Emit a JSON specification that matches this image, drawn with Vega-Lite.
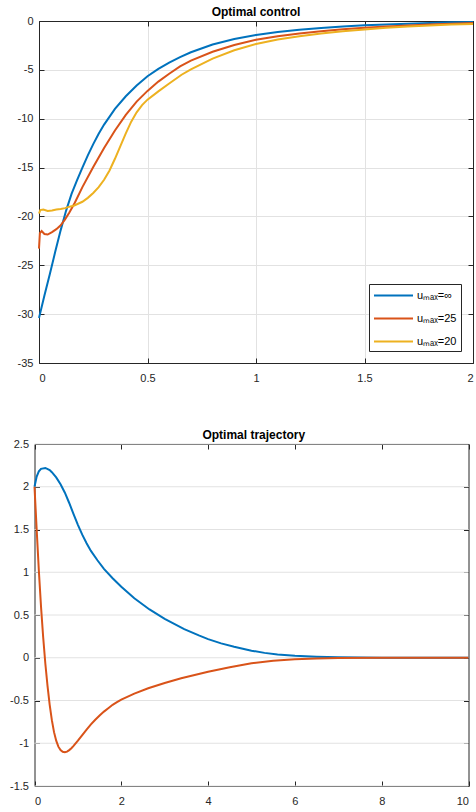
{
  "$schema": "https://vega.github.io/schema/vega-lite/v6.json",
  "padding": {"left": 0, "top": 6, "right": 0, "bottom": 0},
  "background": "white",
  "config": {
    "font": "Liberation Sans",
    "view": {"stroke": null},
    "axis": {
      "labelFont": "Liberation Sans",
      "labelFontSize": 11,
      "labelColor": "#262626",
      "labelExpr": "'' + datum.value",
      "tickColor": "#262626",
      "tickSize": -5,
      "domain": true,
      "domainColor": "#262626",
      "domainWidth": 1,
      "gridColor": "#e2e2e2",
      "gridWidth": 1
    },
    "axisX": {"labelPadding": 14},
    "axisY": {"labelPadding": 11},
    "title": {"font": "Liberation Sans", "fontSize": 12, "fontWeight": "bold", "color": "#000000", "offset": -4, "frame": "group"},
    "legend": {"labelFont": "Liberation Sans"}
  },
  "datasets": {
    "control": [
      {"series": "uₘₐₓ=∞", "t": 0, "u": -30.4},
      {"series": "uₘₐₓ=∞", "t": 0.025, "u": -28.1},
      {"series": "uₘₐₓ=∞", "t": 0.05, "u": -25.9},
      {"series": "uₘₐₓ=∞", "t": 0.075, "u": -23.6},
      {"series": "uₘₐₓ=∞", "t": 0.1, "u": -21.4},
      {"series": "uₘₐₓ=∞", "t": 0.125, "u": -19.4},
      {"series": "uₘₐₓ=∞", "t": 0.15, "u": -17.7},
      {"series": "uₘₐₓ=∞", "t": 0.175, "u": -16.3},
      {"series": "uₘₐₓ=∞", "t": 0.2, "u": -15.0},
      {"series": "uₘₐₓ=∞", "t": 0.225, "u": -13.75},
      {"series": "uₘₐₓ=∞", "t": 0.25, "u": -12.6},
      {"series": "uₘₐₓ=∞", "t": 0.275, "u": -11.55},
      {"series": "uₘₐₓ=∞", "t": 0.3, "u": -10.6},
      {"series": "uₘₐₓ=∞", "t": 0.35, "u": -9.0},
      {"series": "uₘₐₓ=∞", "t": 0.4, "u": -7.7},
      {"series": "uₘₐₓ=∞", "t": 0.45, "u": -6.6},
      {"series": "uₘₐₓ=∞", "t": 0.5, "u": -5.65},
      {"series": "uₘₐₓ=∞", "t": 0.55, "u": -4.9},
      {"series": "uₘₐₓ=∞", "t": 0.6, "u": -4.25},
      {"series": "uₘₐₓ=∞", "t": 0.65, "u": -3.7},
      {"series": "uₘₐₓ=∞", "t": 0.7, "u": -3.2},
      {"series": "uₘₐₓ=∞", "t": 0.8, "u": -2.4},
      {"series": "uₘₐₓ=∞", "t": 0.9, "u": -1.85},
      {"series": "uₘₐₓ=∞", "t": 1.0, "u": -1.43},
      {"series": "uₘₐₓ=∞", "t": 1.1, "u": -1.13},
      {"series": "uₘₐₓ=∞", "t": 1.2, "u": -0.9},
      {"series": "uₘₐₓ=∞", "t": 1.3, "u": -0.72},
      {"series": "uₘₐₓ=∞", "t": 1.4, "u": -0.57},
      {"series": "uₘₐₓ=∞", "t": 1.5, "u": -0.44},
      {"series": "uₘₐₓ=∞", "t": 1.6, "u": -0.35},
      {"series": "uₘₐₓ=∞", "t": 1.7, "u": -0.27},
      {"series": "uₘₐₓ=∞", "t": 1.8, "u": -0.2},
      {"series": "uₘₐₓ=∞", "t": 1.9, "u": -0.14},
      {"series": "uₘₐₓ=∞", "t": 2.0, "u": -0.1},
      {"series": "uₘₐₓ=25", "t": 0, "u": -23.3},
      {"series": "uₘₐₓ=25", "t": 0.004, "u": -21.7},
      {"series": "uₘₐₓ=25", "t": 0.012, "u": -21.5},
      {"series": "uₘₐₓ=25", "t": 0.025, "u": -21.8},
      {"series": "uₘₐₓ=25", "t": 0.04, "u": -21.85},
      {"series": "uₘₐₓ=25", "t": 0.06, "u": -21.6},
      {"series": "uₘₐₓ=25", "t": 0.08, "u": -21.3},
      {"series": "uₘₐₓ=25", "t": 0.1, "u": -20.9},
      {"series": "uₘₐₓ=25", "t": 0.12, "u": -20.3},
      {"series": "uₘₐₓ=25", "t": 0.14, "u": -19.6},
      {"series": "uₘₐₓ=25", "t": 0.165, "u": -18.6},
      {"series": "uₘₐₓ=25", "t": 0.2, "u": -17.0},
      {"series": "uₘₐₓ=25", "t": 0.25, "u": -14.95},
      {"series": "uₘₐₓ=25", "t": 0.3, "u": -13.0},
      {"series": "uₘₐₓ=25", "t": 0.35, "u": -11.2},
      {"series": "uₘₐₓ=25", "t": 0.4, "u": -9.6},
      {"series": "uₘₐₓ=25", "t": 0.45, "u": -8.25},
      {"series": "uₘₐₓ=25", "t": 0.5, "u": -7.15},
      {"series": "uₘₐₓ=25", "t": 0.55, "u": -6.2},
      {"series": "uₘₐₓ=25", "t": 0.6, "u": -5.4},
      {"series": "uₘₐₓ=25", "t": 0.65, "u": -4.65},
      {"series": "uₘₐₓ=25", "t": 0.7, "u": -4.05},
      {"series": "uₘₐₓ=25", "t": 0.8, "u": -3.15},
      {"series": "uₘₐₓ=25", "t": 0.9, "u": -2.45},
      {"series": "uₘₐₓ=25", "t": 1.0, "u": -1.92},
      {"series": "uₘₐₓ=25", "t": 1.1, "u": -1.55},
      {"series": "uₘₐₓ=25", "t": 1.2, "u": -1.27},
      {"series": "uₘₐₓ=25", "t": 1.3, "u": -1.04},
      {"series": "uₘₐₓ=25", "t": 1.4, "u": -0.85},
      {"series": "uₘₐₓ=25", "t": 1.5, "u": -0.69},
      {"series": "uₘₐₓ=25", "t": 1.6, "u": -0.56},
      {"series": "uₘₐₓ=25", "t": 1.7, "u": -0.45},
      {"series": "uₘₐₓ=25", "t": 1.8, "u": -0.35},
      {"series": "uₘₐₓ=25", "t": 1.9, "u": -0.27},
      {"series": "uₘₐₓ=25", "t": 2.0, "u": -0.2},
      {"series": "uₘₐₓ=20", "t": 0, "u": -19.7},
      {"series": "uₘₐₓ=20", "t": 0.006, "u": -19.35},
      {"series": "uₘₐₓ=20", "t": 0.02, "u": -19.3},
      {"series": "uₘₐₓ=20", "t": 0.04, "u": -19.45},
      {"series": "uₘₐₓ=20", "t": 0.06, "u": -19.4},
      {"series": "uₘₐₓ=20", "t": 0.08, "u": -19.3},
      {"series": "uₘₐₓ=20", "t": 0.1, "u": -19.25},
      {"series": "uₘₐₓ=20", "t": 0.12, "u": -19.15},
      {"series": "uₘₐₓ=20", "t": 0.14, "u": -19.0},
      {"series": "uₘₐₓ=20", "t": 0.16, "u": -18.9},
      {"series": "uₘₐₓ=20", "t": 0.18, "u": -18.7},
      {"series": "uₘₐₓ=20", "t": 0.2, "u": -18.5},
      {"series": "uₘₐₓ=20", "t": 0.225, "u": -18.1},
      {"series": "uₘₐₓ=20", "t": 0.25, "u": -17.6},
      {"series": "uₘₐₓ=20", "t": 0.275, "u": -17.0},
      {"series": "uₘₐₓ=20", "t": 0.3, "u": -16.25},
      {"series": "uₘₐₓ=20", "t": 0.325, "u": -15.3},
      {"series": "uₘₐₓ=20", "t": 0.35, "u": -14.1},
      {"series": "uₘₐₓ=20", "t": 0.375, "u": -12.8},
      {"series": "uₘₐₓ=20", "t": 0.4, "u": -11.5},
      {"series": "uₘₐₓ=20", "t": 0.425, "u": -10.3},
      {"series": "uₘₐₓ=20", "t": 0.45, "u": -9.35},
      {"series": "uₘₐₓ=20", "t": 0.475, "u": -8.6},
      {"series": "uₘₐₓ=20", "t": 0.5, "u": -8.05},
      {"series": "uₘₐₓ=20", "t": 0.55, "u": -7.2},
      {"series": "uₘₐₓ=20", "t": 0.6, "u": -6.4},
      {"series": "uₘₐₓ=20", "t": 0.657, "u": -5.5},
      {"series": "uₘₐₓ=20", "t": 0.7, "u": -4.95},
      {"series": "uₘₐₓ=20", "t": 0.8, "u": -3.85},
      {"series": "uₘₐₓ=20", "t": 0.9, "u": -3.0},
      {"series": "uₘₐₓ=20", "t": 1.0, "u": -2.35},
      {"series": "uₘₐₓ=20", "t": 1.1, "u": -1.9},
      {"series": "uₘₐₓ=20", "t": 1.2, "u": -1.55},
      {"series": "uₘₐₓ=20", "t": 1.3, "u": -1.28},
      {"series": "uₘₐₓ=20", "t": 1.4, "u": -1.05},
      {"series": "uₘₐₓ=20", "t": 1.5, "u": -0.86},
      {"series": "uₘₐₓ=20", "t": 1.6, "u": -0.7},
      {"series": "uₘₐₓ=20", "t": 1.7, "u": -0.57},
      {"series": "uₘₐₓ=20", "t": 1.8, "u": -0.46},
      {"series": "uₘₐₓ=20", "t": 1.9, "u": -0.37},
      {"series": "uₘₐₓ=20", "t": 2.0, "u": -0.3}
    ],
    "trajectory": [
      {"state": "x1", "t": 0, "x": 2.0},
      {"state": "x1", "t": 0.05, "x": 2.12},
      {"state": "x1", "t": 0.1, "x": 2.18},
      {"state": "x1", "t": 0.15, "x": 2.21},
      {"state": "x1", "t": 0.25, "x": 2.22},
      {"state": "x1", "t": 0.35, "x": 2.195},
      {"state": "x1", "t": 0.4, "x": 2.17},
      {"state": "x1", "t": 0.5, "x": 2.11},
      {"state": "x1", "t": 0.6, "x": 2.03},
      {"state": "x1", "t": 0.7, "x": 1.93},
      {"state": "x1", "t": 0.8, "x": 1.81},
      {"state": "x1", "t": 0.9, "x": 1.68},
      {"state": "x1", "t": 1.0, "x": 1.555},
      {"state": "x1", "t": 1.1, "x": 1.44},
      {"state": "x1", "t": 1.2, "x": 1.34},
      {"state": "x1", "t": 1.3, "x": 1.25},
      {"state": "x1", "t": 1.45, "x": 1.14},
      {"state": "x1", "t": 1.6, "x": 1.04},
      {"state": "x1", "t": 1.8, "x": 0.93},
      {"state": "x1", "t": 2.0, "x": 0.83},
      {"state": "x1", "t": 2.3, "x": 0.695},
      {"state": "x1", "t": 2.65, "x": 0.565},
      {"state": "x1", "t": 3.0, "x": 0.455},
      {"state": "x1", "t": 3.45, "x": 0.335},
      {"state": "x1", "t": 3.8, "x": 0.258},
      {"state": "x1", "t": 4.0, "x": 0.218},
      {"state": "x1", "t": 4.3, "x": 0.168},
      {"state": "x1", "t": 4.6, "x": 0.128},
      {"state": "x1", "t": 5.0, "x": 0.083},
      {"state": "x1", "t": 5.3, "x": 0.057},
      {"state": "x1", "t": 5.6, "x": 0.038},
      {"state": "x1", "t": 6.0, "x": 0.022},
      {"state": "x1", "t": 6.5, "x": 0.011},
      {"state": "x1", "t": 7.0, "x": 0.005},
      {"state": "x1", "t": 7.5, "x": 0.002},
      {"state": "x1", "t": 8.0, "x": 0.001},
      {"state": "x1", "t": 9.0, "x": 0},
      {"state": "x1", "t": 10.0, "x": 0},
      {"state": "x2", "t": 0, "x": 2.0},
      {"state": "x2", "t": 0.05, "x": 1.5},
      {"state": "x2", "t": 0.1, "x": 1.02},
      {"state": "x2", "t": 0.15, "x": 0.6},
      {"state": "x2", "t": 0.2, "x": 0.24},
      {"state": "x2", "t": 0.25, "x": -0.07},
      {"state": "x2", "t": 0.3, "x": -0.33},
      {"state": "x2", "t": 0.35, "x": -0.55},
      {"state": "x2", "t": 0.4, "x": -0.73},
      {"state": "x2", "t": 0.45, "x": -0.87},
      {"state": "x2", "t": 0.5, "x": -0.97},
      {"state": "x2", "t": 0.55, "x": -1.04},
      {"state": "x2", "t": 0.6, "x": -1.08},
      {"state": "x2", "t": 0.65, "x": -1.1},
      {"state": "x2", "t": 0.7, "x": -1.105},
      {"state": "x2", "t": 0.75, "x": -1.098},
      {"state": "x2", "t": 0.8, "x": -1.08},
      {"state": "x2", "t": 0.85, "x": -1.058},
      {"state": "x2", "t": 0.9, "x": -1.03},
      {"state": "x2", "t": 1.0, "x": -0.97},
      {"state": "x2", "t": 1.1, "x": -0.905},
      {"state": "x2", "t": 1.2, "x": -0.84},
      {"state": "x2", "t": 1.3, "x": -0.78},
      {"state": "x2", "t": 1.4, "x": -0.725},
      {"state": "x2", "t": 1.5, "x": -0.675},
      {"state": "x2", "t": 1.6, "x": -0.63},
      {"state": "x2", "t": 1.7, "x": -0.59},
      {"state": "x2", "t": 1.8, "x": -0.55},
      {"state": "x2", "t": 1.9, "x": -0.52},
      {"state": "x2", "t": 2.0, "x": -0.49},
      {"state": "x2", "t": 2.3, "x": -0.42},
      {"state": "x2", "t": 2.62, "x": -0.357},
      {"state": "x2", "t": 3.0, "x": -0.295},
      {"state": "x2", "t": 3.38, "x": -0.24},
      {"state": "x2", "t": 4.0, "x": -0.163},
      {"state": "x2", "t": 4.5, "x": -0.11},
      {"state": "x2", "t": 5.0, "x": -0.065},
      {"state": "x2", "t": 5.5, "x": -0.035},
      {"state": "x2", "t": 6.0, "x": -0.018},
      {"state": "x2", "t": 6.5, "x": -0.009},
      {"state": "x2", "t": 7.0, "x": -0.004},
      {"state": "x2", "t": 8.0, "x": -0.001},
      {"state": "x2", "t": 9.0, "x": 0},
      {"state": "x2", "t": 10.0, "x": 0}
    ],
    "ygrid": [
      {"g": -1.5}, {"g": -1}, {"g": -0.5}, {"g": 0}, {"g": 0.5}, {"g": 1}, {"g": 1.5}, {"g": 2}, {"g": 2.5}
    ]
  },
  "vconcat": [
    {
      "vconcat": [
        {
          "width": 434,
          "height": 342,
          "title": "Optimal control",
          "data": {"name": "control"},
          "layer": [
            {
              "mark": {"type": "line", "strokeWidth": 2},
              "encoding": {
                "x": {"field": "t", "type": "quantitative", "title": null, "scale": {"domain": [0, 2], "nice": false}, "axis": {"orient": "bottom", "values": [0, 0.5, 1, 1.5, 2]}},
                "y": {"field": "u", "type": "quantitative", "title": null, "scale": {"domain": [-35, 0], "nice": false, "zero": false}, "axis": {"orient": "left", "values": [-35, -30, -25, -20, -15, -10, -5, 0], "minExtent": 39}},
                "color": {
                  "field": "series", "type": "nominal", "sort": null,
                  "scale": {"domain": ["uₘₐₓ=∞", "uₘₐₓ=25", "uₘₐₓ=20"], "range": ["#0072BD", "#D95319", "#EDB120"]},
                  "legend": {
                    "title": null, "orient": "bottom-right", "offset": 12,
                    "fillColor": "white", "strokeColor": "#262626", "padding": 4,
                    "symbolType": "M-1,0H5", "symbolSize": 169, "symbolStrokeWidth": 2,
                    "labelFontSize": 11, "labelColor": "#000000", "labelOffset": 29, "rowPadding": 10
                  }
                }
              }
            },
            {
              "mark": {"type": "line", "opacity": 0},
              "encoding": {
                "x": {"field": "t", "type": "quantitative", "title": null, "axis": {"orient": "top", "values": [0, 0.5, 1, 1.5, 2], "labels": false, "grid": false, "labelPadding": 0, "minExtent": 0}},
                "y": {"field": "u", "type": "quantitative", "title": null, "axis": {"orient": "right", "values": [-35, -30, -25, -20, -15, -10, -5, 0], "labels": false, "grid": false, "labelPadding": 0, "minExtent": 0}},
                "detail": {"field": "series"}
              }
            }
          ],
          "resolve": {"axis": {"x": "independent", "y": "independent"}}
        }
      ],
      "resolve": {"scale": {"color": "independent"}, "legend": {"color": "independent"}}
    },
    {
      "vconcat": [
        {
          "width": 429.5,
          "height": 342,
          "title": "Optimal trajectory",
          "layer": [
            {
              "data": {"name": "ygrid"},
              "mark": {"type": "rule", "color": "#e2e2e2", "strokeWidth": 1},
              "encoding": {
                "y": {"field": "g", "type": "quantitative", "axis": null},
                "x": {"datum": 0, "type": "quantitative", "axis": null},
                "x2": {"datum": 10}
              }
            },
            {
              "data": {"name": "trajectory"},
              "mark": {"type": "line", "strokeWidth": 2},
              "encoding": {
                "x": {"field": "t", "type": "quantitative", "title": null, "scale": {"domain": [0, 10], "nice": false, "range": [-4.5, 429.5]}, "axis": {"orient": "bottom", "values": [0, 2, 4, 6, 8, 10]}},
                "y": {"field": "x", "type": "quantitative", "title": null, "scale": {"domain": [-1.5, 2.5], "nice": false, "zero": false}, "axis": {"orient": "left", "values": [-1.5, -1, -0.5, 0, 0.5, 1, 1.5, 2, 2.5], "offset": 4.5, "grid": false, "minExtent": 10}},
                "color": {"field": "state", "type": "nominal", "scale": {"domain": ["x1", "x2"], "range": ["#0072BD", "#D95319"]}, "legend": null}
              }
            },
            {
              "data": {"name": "trajectory"},
              "mark": {"type": "line", "opacity": 0},
              "encoding": {
                "x": {"field": "t", "type": "quantitative", "title": null, "axis": {"orient": "top", "values": [0, 2, 4, 6, 8, 10], "labels": false, "grid": false, "labelPadding": 0, "minExtent": 0}},
                "y": {"field": "x", "type": "quantitative", "title": null, "axis": {"orient": "right", "values": [-1.5, -1, -0.5, 0, 0.5, 1, 1.5, 2, 2.5], "labels": false, "grid": false, "labelPadding": 0, "minExtent": 0}},
                "detail": {"field": "state"}
              }
            }
          ],
          "resolve": {"axis": {"x": "independent", "y": "independent"}}
        }
      ],
      "resolve": {"scale": {"color": "independent"}, "legend": {"color": "independent"}}
    }
  ],
  "spacing": 46,
  "resolve": {"scale": {"color": "independent"}, "legend": {"color": "independent"}}
}
